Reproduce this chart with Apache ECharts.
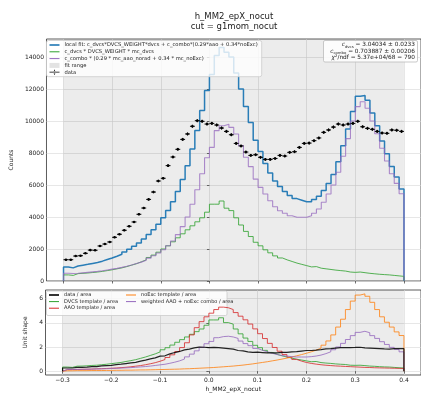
<!DOCTYPE html>
<html><head><meta charset="utf-8">
<script src="https://cdn.jsdelivr.net/npm/echarts@6/dist/echarts.min.js"></script>
<style>html,body{margin:0;padding:0;background:#fff}#c{width:421px;height:393px}</style>
</head><body><div id="c"></div>
<script>
// ---- binning ----
const binLow = -0.3;
const binWidth = 0.01;

// ---- top panel (counts) ----
const dataCounts = [1330,1330,1560,1580,1730,1930,1920,2190,2310,2440,2730,2920,3170,3420,3690,4170,4560,5100,5560,6250,6420,7210,7750,8230,8850,9190,9670,10020,9980,9810,
 9850,9750,9560,9350,9140,8600,8440,8060,7850,7890,7730,7600,7600,7660,7850,7810,8040,8080,8350,8600,8620,8770,8940,9290,9440,9620,9810,9750,9810,9850,9980,9640,9540,9480,9350,9250,9230,9440,9420,9350];
const fitTotal = [880,820,940,990,1040,1100,1160,1240,1340,1440,1550,1670,1820,1990,2170,2380,2620,2900,3200,3550,3950,4400,4950,5600,6350,7200,8250,9400,10650,11900,
 12900,14100,14600,14300,14000,13000,12000,10900,9900,8800,8100,7350,6750,6250,5900,5600,5350,5150,5050,4950,4950,5100,5300,5650,6100,6650,7450,8450,9500,10600,11550,11600,11300,10500,9700,8750,7950,7150,6500,5750];
const dvcsScaled = [380,350,460,480,500,530,560,600,650,700,760,820,900,990,1080,1200,1320,1470,1620,1800,2000,2200,2450,2700,2950,3200,3450,3700,3950,4300,
 4800,4800,5000,4550,4400,3950,3500,3100,2780,2420,2200,1950,1760,1570,1440,1320,1220,1120,1040,960,880,900,800,760,720,680,650,620,560,540,560,520,480,450,420,400,380,350,320,290];
const comboScaled = [480,470,480,510,540,570,600,640,690,740,790,850,920,1000,1090,1180,1300,1430,1580,1750,1950,2200,2500,2900,3400,4000,4800,5700,6700,7700,
 8350,9400,9700,9800,9600,9190,8460,7730,7150,6370,5850,5440,5020,4640,4390,4230,4080,3980,3980,3980,4080,4230,4500,4920,5440,6000,6800,7800,8900,10000,10900,11200,10800,10000,9200,8300,7500,6700,6100,5450];

// ---- bottom panel (unit shape) ----
const dataShape = [0.26,0.26,0.31,0.31,0.34,0.38,0.38,0.43,0.46,0.48,0.54,0.58,0.63,0.68,0.73,0.83,0.91,1.01,1.10,1.24,1.27,1.43,1.54,1.63,1.76,1.82,1.92,1.99,1.98,1.95,
 1.96,1.94,1.90,1.86,1.82,1.71,1.68,1.60,1.56,1.57,1.54,1.51,1.51,1.52,1.56,1.55,1.60,1.61,1.66,1.71,1.71,1.74,1.78,1.85,1.87,1.91,1.95,1.94,1.95,1.96,1.98,1.92,1.90,1.88,1.86,1.84,1.83,1.87,1.87,1.86];
const dvcsShape = [0.34,0.31,0.41,0.42,0.44,0.47,0.49,0.53,0.57,0.62,0.67,0.72,0.80,0.87,0.95,1.06,1.17,1.30,1.43,1.59,1.77,1.94,2.16,2.39,2.61,2.83,3.05,3.27,3.49,3.80,
 4.24,4.24,4.42,4.02,3.89,3.49,3.09,2.74,2.46,2.14,1.94,1.72,1.55,1.39,1.27,1.17,1.08,0.99,0.92,0.85,0.78,0.80,0.71,0.67,0.64,0.60,0.57,0.55,0.49,0.48,0.49,0.46,0.42,0.40,0.37,0.35,0.34,0.31,0.28,0.26];
const aaoShape = [0.12,0.13,0.14,0.15,0.16,0.17,0.19,0.20,0.22,0.24,0.26,0.29,0.32,0.36,0.41,0.46,0.53,0.61,0.70,0.82,0.96,1.13,1.35,1.62,1.95,2.35,3.00,3.60,4.10,4.50,
 4.80,5.10,5.30,5.25,5.10,4.85,4.55,4.25,3.90,3.50,3.10,2.70,2.30,1.96,1.65,1.38,1.15,0.97,0.83,0.72,0.64,0.58,0.53,0.49,0.46,0.43,0.41,0.39,0.37,0.35,0.33,0.31,0.30,0.28,0.27,0.26,0.25,0.24,0.23,0.22];
const noExcShape = [0.03,0.03,0.04,0.04,0.04,0.05,0.05,0.05,0.06,0.06,0.07,0.07,0.08,0.08,0.09,0.10,0.10,0.11,0.12,0.13,0.14,0.15,0.16,0.17,0.19,0.20,0.22,0.24,0.26,0.28,
 0.30,0.33,0.36,0.39,0.42,0.46,0.50,0.55,0.60,0.66,0.72,0.78,0.85,0.92,1.00,1.08,1.17,1.27,1.37,1.48,1.60,1.74,1.90,2.15,2.50,3.00,3.65,4.30,5.10,5.80,6.30,6.40,6.20,5.70,5.10,4.50,4.05,3.65,3.25,2.95];
const comboShape = [0.14,0.14,0.14,0.15,0.16,0.17,0.18,0.19,0.20,0.22,0.23,0.25,0.27,0.29,0.32,0.35,0.38,0.42,0.47,0.52,0.57,0.65,0.74,0.85,1.00,1.18,1.41,1.68,1.97,2.27,
 2.46,2.77,2.86,2.89,2.83,2.71,2.49,2.28,2.11,1.88,1.72,1.60,1.48,1.37,1.29,1.25,1.20,1.17,1.17,1.17,1.20,1.25,1.33,1.45,1.60,1.77,2.00,2.30,2.62,2.94,3.21,3.30,3.18,2.94,2.71,2.44,2.21,1.97,1.80,1.60];

// ---- ticks ----
const xTicks = [-0.3,-0.2,-0.1,0,0.1,0.2,0.3,0.4];
const yTicksTop = [0,2000,4000,6000,8000,10000,12000,14000];
const yTicksBottom = [0,2,4,6];

const FONT = 'DejaVu Sans';
const TXT = '#222';
const nb = dataCounts.length;
const binHigh = binLow + nb * binWidth;
const LINE_ICON = 'path://M0,0H10V1H0Z';
const THICK_ICON = 'path://M0,0H10V1.6H0Z';

function stepPts(vals){
  const pts = [[binLow, 0]];
  vals.forEach((v,i)=>pts.push([binLow + i*binWidth, v]));
  pts.push([binHigh, vals[vals.length-1]]);
  pts.push([binHigh, 0]);
  return pts;
}
function fmtX(v){ return (v < -1e-9 ? '\u2212' : '') + Math.abs(v).toFixed(1); }

function xAxisCfg(gi, labels){
  const a = {
    type:'value', gridIndex:gi, min:-0.335, max:0.435,
    axisLine:{show:false},
    axisTick:{show:true, length:2.5, customValues:xTicks, lineStyle:{color:'#333', width:0.7}},
    axisLabel:{show:labels, customValues:xTicks, formatter:fmtX, fontSize:6, color:TXT, margin:2.5, fontFamily:FONT},
    splitLine:{show:true, lineStyle:{color:'#d6d6d6', width:0.6}}
  };
  if (labels){
    a.name = 'h_MM2_epX_nocut'; a.nameLocation = 'middle'; a.nameGap = 11;
    a.nameTextStyle = {fontSize:6, color:TXT, fontFamily:FONT};
  }
  return a;
}
function yAxisCfg(gi, min, max, ticks, name, gap){
  return {
    type:'value', gridIndex:gi, min, max,
    axisLine:{show:false},
    axisTick:{show:true, length:2.5, customValues:ticks, lineStyle:{color:'#333', width:0.7}},
    axisLabel:{customValues:ticks, formatter:(v)=>String(v), fontSize:6, color:TXT, margin:2.5, fontFamily:FONT},
    splitLine:{show:true, lineStyle:{color:'#d6d6d6', width:0.6}},
    name, nameLocation:'middle', nameGap:gap, nameRotate:90,
    nameTextStyle:{fontSize:6, color:TXT, fontFamily:FONT}
  };
}
function histSeries(name, vals, color, width, opacity, xi, z){
  return {type:'line', name, xAxisIndex:xi, yAxisIndex:xi, data:stepPts(vals), step:'end',
    symbol:'none', showSymbol:false, color, z,
    lineStyle:{color, width, opacity}, emphasis:{disabled:true}, silent:true};
}
function spanSeries(name, xi){
  return {type:'line', name, xAxisIndex:xi, yAxisIndex:xi, data:[[binLow,0]], symbol:'none',
    color:'#e3e3e3', lineStyle:{opacity:0}, silent:true, z:1,
    markArea:{silent:true, itemStyle:{color:'rgba(0,0,0,0.075)'}, data:[[{xAxis:binLow},{xAxis:binHigh}]]}};
}

const errData = dataCounts.map((v,i)=>[binLow + (i+0.5)*binWidth, v, Math.sqrt(v)]);

const option = {
  animation:false,
  backgroundColor:'#fff',
  textStyle:{fontFamily:FONT},
  grid:[
    {left:45.5, top:39, width:377.5, height:242, show:true, borderColor:'#333', borderWidth:0.8, backgroundColor:'transparent'},
    {left:45.5, top:290, width:377.5, height:86.5, show:true, borderColor:'#333', borderWidth:0.8, backgroundColor:'transparent'}
  ],
  xAxis:[xAxisCfg(0,false), xAxisCfg(1,true)],
  yAxis:[yAxisCfg(0,0,15125,yTicksTop,'Counts',27), yAxisCfg(1,-0.32,6.72,yTicksBottom,'Unit shape',8)],
  legend:[
    {orient:'vertical', left:46.5, top:40.5, itemWidth:10, itemHeight:5, itemGap:1.8,
     padding:[2,4,2,3], backgroundColor:'rgba(255,255,255,0.8)', borderColor:'#cccccc', borderWidth:0.8, borderRadius:2,
     textStyle:{fontSize:5.2, color:TXT, fontFamily:FONT},
     selectedMode:false,
     data:[
      {name:'local fit: c_dvcs*DVCS_WEIGHT*dvcs + c_combo*(0.29*aao + 0.34*noExc)', icon:THICK_ICON},
      {name:'c_dvcs * DVCS_WEIGHT * mc_dvcs', icon:LINE_ICON},
      {name:'c_combo * (0.29 * mc_aao_norad + 0.34 * mc_noExc)', icon:LINE_ICON},
      {name:'fit range', icon:'rect', itemStyle:{color:'#e3e3e3'}},
      {name:'data', icon:'path://M0,2.1H10V2.9H0Z M4.6,0H5.4V5H4.6Z M3.8,2.5A1.2,1.2 0 1 0 6.2,2.5A1.2,1.2 0 1 0 3.8,2.5Z', itemStyle:{color:'#000'}}
     ]},
    {orient:'vertical', left:47, top:291.5, itemWidth:10, itemHeight:5, itemGap:1.6, padding:[1,2,1,2],
     textStyle:{fontSize:5, color:TXT, fontFamily:FONT}, selectedMode:false,
     data:[{name:'data / area', icon:THICK_ICON},{name:'DVCS template / area', icon:LINE_ICON},{name:'AAO template / area', icon:LINE_ICON}]},
    {orient:'vertical', left:124, top:291.5, itemWidth:10, itemHeight:5, itemGap:1.6, padding:[1,2,1,2],
     textStyle:{fontSize:5, color:TXT, fontFamily:FONT}, selectedMode:false,
     data:[{name:'noExc template / area', icon:LINE_ICON},{name:'weighted AAO + noExc combo / area', icon:LINE_ICON}]}
  ],
  series:[
    spanSeries('fit range',0),
    histSeries('local fit: c_dvcs*DVCS_WEIGHT*dvcs + c_combo*(0.29*aao + 0.34*noExc)', fitTotal, '#1f77b4', 1.5, 0.95, 0, 3),
    histSeries('c_dvcs * DVCS_WEIGHT * mc_dvcs', dvcsScaled, '#2ca02c', 1.0, 0.8, 0, 4),
    histSeries('c_combo * (0.29 * mc_aao_norad + 0.34 * mc_noExc)', comboScaled, '#9467bd', 1.1, 0.75, 0, 4),
    {type:'custom', name:'data', xAxisIndex:0, yAxisIndex:0, data:errData, color:'#000', z:6, silent:true,
     encode:{x:0, y:1},
     renderItem:(params, api)=>{
       const x = api.value(0), y = api.value(1), e = api.value(2);
       const c = api.coord([x,y]);
       const l = api.coord([x - binWidth/2, y]);
       const r = api.coord([x + binWidth/2, y]);
       const t = api.coord([x, y + e]);
       const b = api.coord([x, y - e]);
       return {type:'group', children:[
         {type:'line', shape:{x1:l[0], y1:c[1], x2:r[0], y2:c[1]}, style:{stroke:'#000', lineWidth:1}},
         {type:'line', shape:{x1:c[0], y1:t[1], x2:c[0], y2:b[1]}, style:{stroke:'#000', lineWidth:1}},
         {type:'circle', shape:{cx:c[0], cy:c[1], r:1.3}, style:{fill:'#000'}}
       ]};
     }},
    spanSeries('fit range (shape)',1),
    histSeries('data / area', dataShape, '#000000', 1.2, 0.85, 1, 6),
    histSeries('DVCS template / area', dvcsShape, '#2ca02c', 1.0, 0.8, 1, 4),
    histSeries('AAO template / area', aaoShape, '#d62728', 1.0, 0.8, 1, 4),
    histSeries('noExc template / area', noExcShape, '#ff7f0e', 1.0, 0.8, 1, 4),
    histSeries('weighted AAO + noExc combo / area', comboShape, '#9467bd', 1.0, 0.8, 1, 5)
  ],
  graphic:[
    {type:'text', x:234, y:17, z:100, style:{text:'h_MM2_epX_nocut', align:'center', verticalAlign:'middle', fontSize:8.5, fontFamily:FONT, fill:TXT}},
    {type:'text', x:234, y:27, z:100, style:{text:'cut = g1mom_nocut', align:'center', verticalAlign:'middle', fontSize:8.5, fontFamily:FONT, fill:TXT}},
    {type:'rect', z:100, shape:{x:323.5, y:40.5, width:94, height:21.5, r:1.5}, style:{fill:'rgba(255,255,255,0.85)', stroke:'#bbbbbb', lineWidth:0.8}},
    {type:'text', x:415, y:44.6, z:101, style:{text:'{i|c}{s|dvcs}{n| = 3.04034 \u00b1 0.0233}', align:'right', verticalAlign:'middle', fill:TXT, fontFamily:FONT, fontSize:5.8,
      rich:{i:{fontStyle:'italic', fontSize:5.8, lineHeight:8, fontFamily:FONT}, s:{fontSize:3.8, lineHeight:5, verticalAlign:'bottom', fontFamily:FONT}, n:{fontSize:5.8, lineHeight:8, fontFamily:FONT}}}},
    {type:'text', x:415, y:51, z:101, style:{text:'{i|c}{s|combo}{n| = 0.703887 \u00b1 0.00206}', align:'right', verticalAlign:'middle', fill:TXT, fontFamily:FONT, fontSize:5.8,
      rich:{i:{fontStyle:'italic', fontSize:5.8, lineHeight:8, fontFamily:FONT}, s:{fontSize:3.8, lineHeight:5, verticalAlign:'bottom', fontFamily:FONT}, n:{fontSize:5.8, lineHeight:8, fontFamily:FONT}}}},
    {type:'text', x:415, y:57.6, z:101, style:{text:'{i|\u03c7}{p|2}{n|/ndf = 5.37e+04/68 = 790}', align:'right', verticalAlign:'middle', fill:TXT, fontFamily:FONT, fontSize:5.8,
      rich:{i:{fontStyle:'italic', fontSize:5.8, lineHeight:8, fontFamily:FONT}, p:{fontSize:3.8, lineHeight:5, verticalAlign:'top', fontFamily:FONT}, n:{fontSize:5.8, lineHeight:8, fontFamily:FONT}}}},
    {type:'rect', z:3, shape:{x:46.5, y:291, width:180.5, height:24.5, r:1.5}, style:{fill:'rgba(255,255,255,0.8)', stroke:'#cccccc', lineWidth:0.8}}
  ]
};
const chart = echarts.init(document.getElementById('c'));
chart.setOption(option);
</script>
</body></html>
